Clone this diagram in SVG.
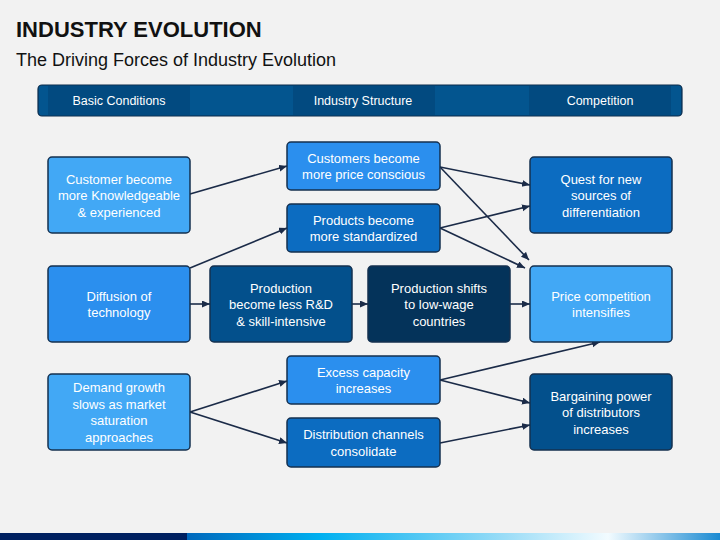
<svg xmlns="http://www.w3.org/2000/svg" width="720" height="540" viewBox="0 0 720 540">
<defs>
<style>
.t{font-family:"Liberation Sans",Arial,sans-serif;fill:#fff;font-size:13px;text-anchor:middle}
.h{font-family:"Liberation Sans",Arial,sans-serif;fill:#fff;font-size:12.5px;text-anchor:middle}
.box{stroke:#15304f;stroke-width:1.5}
.c1{fill:#42A8F5}.c2{fill:#2B8FEE}.c3{fill:#0C6CC1}.c4{fill:#03508C}.c5{fill:#04335A}
.ln{stroke:#1b2b48;stroke-width:1.6;fill:none;marker-end:url(#ah)}
</style>
<marker id="ah" markerUnits="userSpaceOnUse" markerWidth="9" markerHeight="8" refX="8" refY="3.5" orient="auto">
<path d="M0,0 L8,3.5 L0,7 z" fill="#1b2b48"/>
</marker>
<linearGradient id="bg" x1="187" y1="0" x2="720" y2="0" gradientUnits="userSpaceOnUse">
<stop offset="0" stop-color="#0068BC"/>
<stop offset="0.25" stop-color="#00B0F0"/>
<stop offset="0.6" stop-color="#9CDDF7"/>
<stop offset="0.79" stop-color="#F2FBFF"/>
<stop offset="1" stop-color="#1A8AD2"/>
</linearGradient>
</defs>
<rect width="720" height="540" fill="#F2F2F2"/>
<g id="title">
<text x="16" y="37" font-family="'Liberation Sans',Arial,sans-serif" font-size="22" font-weight="bold" fill="#111">INDUSTRY EVOLUTION</text>
<text x="16" y="66" font-family="'Liberation Sans',Arial,sans-serif" font-size="18" fill="#111">The Driving Forces of Industry Evolution</text>
</g>
<g id="header">
<rect x="38" y="85" width="644" height="31" rx="4" fill="#03558F" stroke="#0b2a4a" stroke-width="1.2"/>
<rect x="48" y="86" width="142" height="29" fill="#024A80"/>
<rect x="293" y="86" width="142" height="29" fill="#024A80"/>
<rect x="529" y="86" width="142" height="29" fill="#024A80"/>
<text class="h" x="119" y="105">Basic Conditions</text>
<text class="h" x="363" y="105">Industry Structure</text>
<text class="h" x="600" y="105">Competition</text>
</g>
<g id="connectors">
<line class="ln" x1="190" y1="194" x2="287" y2="166"/>
<line class="ln" x1="190" y1="268" x2="287" y2="228"/>
<line class="ln" x1="190" y1="304" x2="210" y2="304"/>
<line class="ln" x1="352" y1="304" x2="368" y2="304"/>
<line class="ln" x1="510" y1="304" x2="530" y2="304"/>
<line class="ln" x1="440" y1="167" x2="530" y2="185"/>
<line class="ln" x1="440" y1="167" x2="529" y2="260"/>
<line class="ln" x1="440" y1="228" x2="530" y2="206"/>
<line class="ln" x1="440" y1="228" x2="525" y2="268"/>
<line class="ln" x1="190" y1="412" x2="287" y2="381"/>
<line class="ln" x1="190" y1="412" x2="287" y2="443"/>
<line class="ln" x1="440" y1="380" x2="600" y2="342"/>
<line class="ln" x1="440" y1="380" x2="530" y2="403"/>
<line class="ln" x1="440" y1="443" x2="530" y2="425"/>
</g>
<g id="n1"><rect class="box c1" x="48" y="157" width="142" height="76" rx="4"/>
<text class="t" x="119" y="183.5">Customer become</text><text class="t" x="119" y="200">more Knowledgeable</text><text class="t" x="119" y="216.5">&amp; experienced</text></g>
<g id="n2"><rect class="box c2" x="287" y="142" width="153" height="48" rx="4"/>
<text class="t" x="363.5" y="162.8">Customers become</text><text class="t" x="363.5" y="179.3">more price conscious</text></g>
<g id="n3"><rect class="box c3" x="287" y="204" width="153" height="48" rx="4"/>
<text class="t" x="363.5" y="224.8">Products become</text><text class="t" x="363.5" y="241.3">more standardized</text></g>
<g id="n4"><rect class="box c2" x="48" y="266" width="142" height="76" rx="4"/>
<text class="t" x="119" y="300.8">Diffusion of</text><text class="t" x="119" y="317.3">technology</text></g>
<g id="n5"><rect class="box c4" x="210" y="266" width="142" height="76" rx="4"/>
<text class="t" x="281" y="292.5">Production</text><text class="t" x="281" y="309">become less R&amp;D</text><text class="t" x="281" y="325.5">&amp; skill-intensive</text></g>
<g id="n6"><rect class="box c5" x="368" y="266" width="142" height="76" rx="4"/>
<text class="t" x="439" y="292.5">Production shifts</text><text class="t" x="439" y="309">to low-wage</text><text class="t" x="439" y="325.5">countries</text></g>
<g id="n7"><rect class="box c3" x="530" y="157" width="142" height="76" rx="4"/>
<text class="t" x="601" y="183.5">Quest for new</text><text class="t" x="601" y="200">sources of</text><text class="t" x="601" y="216.5">differentiation</text></g>
<g id="n8"><rect class="box c1" x="530" y="266" width="142" height="76" rx="4"/>
<text class="t" x="601" y="300.8">Price competition</text><text class="t" x="601" y="317.3">intensifies</text></g>
<g id="n9"><rect class="box c1" x="48" y="374" width="142" height="76" rx="4"/>
<text class="t" x="119" y="392.3">Demand growth</text><text class="t" x="119" y="408.8">slows as market</text><text class="t" x="119" y="425.3">saturation</text><text class="t" x="119" y="441.8">approaches</text></g>
<g id="n10"><rect class="box c2" x="287" y="356" width="153" height="48" rx="4"/>
<text class="t" x="363.5" y="376.8">Excess capacity</text><text class="t" x="363.5" y="393.3">increases</text></g>
<g id="n11"><rect class="box c3" x="287" y="418" width="153" height="49" rx="4"/>
<text class="t" x="363.5" y="439.3">Distribution channels</text><text class="t" x="363.5" y="455.8">consolidate</text></g>
<g id="n12"><rect class="box c4" x="530" y="374" width="142" height="76" rx="4"/>
<text class="t" x="601" y="400.5">Bargaining power</text><text class="t" x="601" y="417">of distributors</text><text class="t" x="601" y="433.5">increases</text></g>
<g id="footer">
<rect x="0" y="533" width="187" height="7" fill="#002060"/>
<rect x="187" y="533" width="533" height="7" fill="url(#bg)"/>
</g>
</svg>
